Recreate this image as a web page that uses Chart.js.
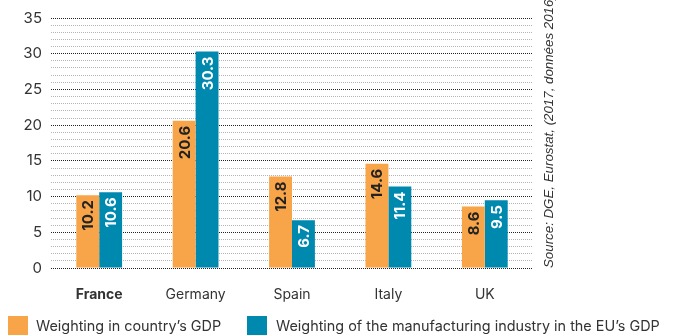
<!DOCTYPE html>
<html>
<head>
<meta charset="utf-8">
<script src="https://cdn.jsdelivr.net/npm/chart.js@4.4.1/dist/chart.umd.min.js"></script>
<style>
  html, body { margin: 0; padding: 0; background: #fff; }
  #wrap { position: relative; width: 692px; height: 335px; overflow: hidden; }
  #chart { position: absolute; left: 0; top: 0; }
  .legend { position: absolute; top: 316px; font-family: Inter, "Noto Sans", sans-serif; font-size: 14.4px; color: #333; white-space: nowrap; }
  .legend span.sw { position: absolute; top: 0; width: 20px; height: 19px; }
  .legend span.tx { position: absolute; top: 1px; }
</style>
</head>
<body>
<div id="wrap">
  <canvas id="chart" width="692" height="335"></canvas>
  <div class="legend" id="legend"></div>
</div>
<script>
// Countries and the two weightings (%)
const countries = ["France", "Germany", "Spain", "Italy", "UK"];
const gdpShare = [10.2, 20.6, 12.8, 14.6, 8.6];
const euManufShare = [10.6, 30.3, 6.7, 11.4, 9.5];
const seriesNames = ["Weighting in country\u2019s GDP", "Weighting of the manufacturing industry in the EU\u2019s GDP"];
const yTicks = [0, 5, 10, 15, 20, 25, 30, 35];
const sourceText = "Source: DGE, Eurostat, (2017, donn\u00e9es 2016)";

const ORANGE = "#F8A449";
const BLUE = "#0089AF";
const FONT = "Inter, 'Noto Sans', sans-serif";

// Vertical value labels inside the top of each bar
const barLabels = {
  id: "barLabels",
  afterDatasetsDraw(chart) {
    const ctx = chart.ctx;
    chart.data.datasets.forEach((ds, di) => {
      const meta = chart.getDatasetMeta(di);
      meta.data.forEach((bar, i) => {
        ctx.save();
        ctx.translate(bar.x + 1, bar.y + 5);
        ctx.rotate(-Math.PI / 2);
        ctx.font = "bold 15px " + FONT;
        ctx.fillStyle = di === 0 ? "#222" : "#fff";
        ctx.textAlign = "right";
        ctx.textBaseline = "middle";
        ctx.fillText(ds.data[i].toFixed(1), 0, 0);
        ctx.restore();
      });
    });
  }
};

// Rotated source note on the right
const sourceNote = {
  id: "sourceNote",
  afterDraw(chart) {
    const ctx = chart.ctx;
    ctx.save();
    ctx.translate(549, 268);
    ctx.rotate(-Math.PI / 2);
    ctx.font = "italic 13.3px 'Liberation Sans', Arial, sans-serif";
    ctx.fillStyle = "#333";
    ctx.textAlign = "left";
    ctx.textBaseline = "middle";
    ctx.fillText(sourceText, 0, 0);
    ctx.restore();
  }
};

new Chart(document.getElementById("chart"), {
  type: "bar",
  data: {
    labels: countries,
    datasets: [
      { label: seriesNames[0], data: gdpShare, backgroundColor: ORANGE },
      { label: seriesNames[1], data: euManufShare, backgroundColor: BLUE }
    ]
  },
  options: {
    responsive: false,
    animation: false,
    events: [],
    layout: { padding: { top: 11, right: 159, left: 0, bottom: 0 } },
    categoryPercentage: 0.475,
    barPercentage: 1.0,
    plugins: { legend: { display: false }, tooltip: { enabled: false } },
    scales: {
      x: {
        grid: { display: false },
        border: { display: false },
        afterFit(scale) { scale.height = 67; },
        ticks: {
          padding: 10,
          color: "#333",
          font: (c) => ({ family: FONT, size: 14, weight: c.index === 0 ? "bold" : "normal" })
        }
      },
      y: {
        min: 0,
        max: 35,
        afterFit(scale) { scale.width = 51; },
        border: { display: false, dash: [1, 1] },
        grid: {
          drawTicks: false,
          lineWidth: 1,
          color: (c) => (c.tick && c.tick.value % 5 === 0 ? "#222" : "#b4b4b4")
        },
        ticks: {
          stepSize: 1,
          autoSkip: false,
          padding: 9,
          color: "#333",
          font: { family: FONT, size: 15 },
          callback: (v) => (yTicks.includes(v) ? String(v) : "")
        }
      }
    }
  },
  plugins: [barLabels, sourceNote]
});

// Legend row
const legend = document.getElementById("legend");
const legendPos = [{ sw: 8, tx: 36 }, { sw: 247, tx: 276 }];
seriesNames.forEach((name, i) => {
  const sw = document.createElement("span");
  sw.className = "sw";
  sw.style.left = legendPos[i].sw + "px";
  sw.style.background = i === 0 ? ORANGE : BLUE;
  const tx = document.createElement("span");
  tx.className = "tx";
  tx.style.left = legendPos[i].tx + "px";
  tx.textContent = name;
  legend.appendChild(sw);
  legend.appendChild(tx);
});
</script>
</body>
</html>
